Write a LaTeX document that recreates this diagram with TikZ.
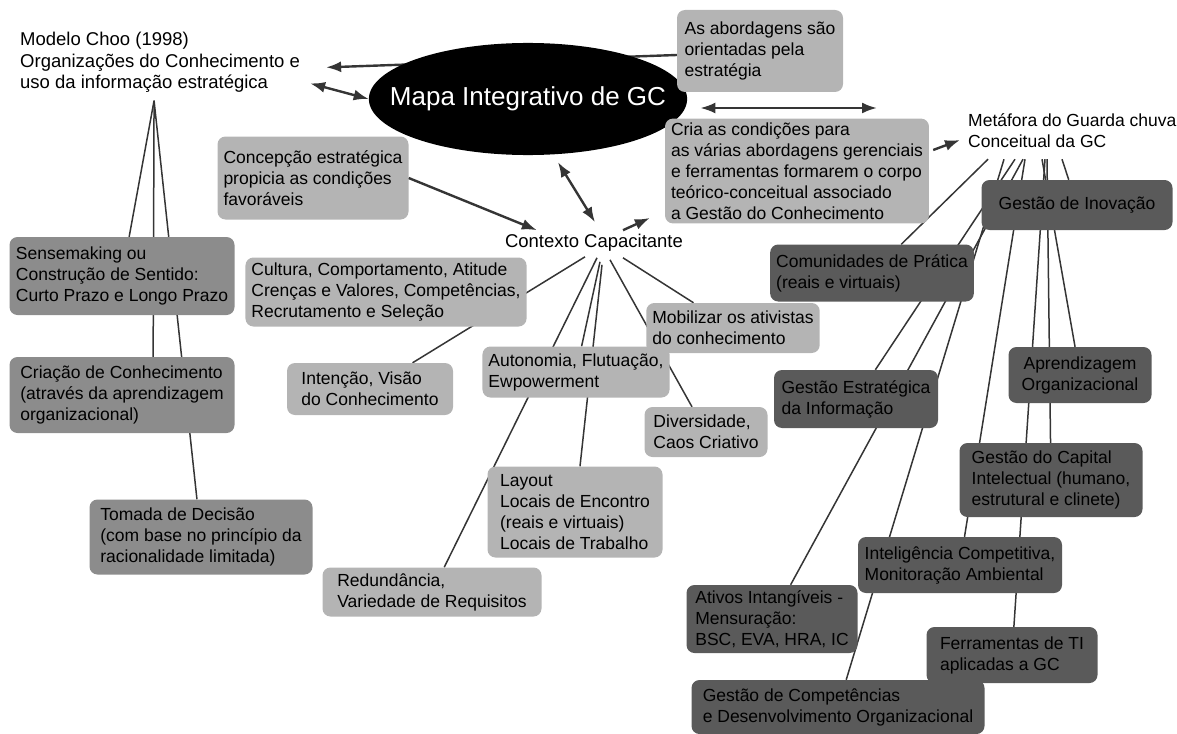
\documentclass[tikz,border=0pt]{standalone}
\usepackage{fontspec}
\setmainfont{Liberation Sans}
\usepackage{tikz}
\usetikzlibrary{shapes,arrows.meta,calc,positioning,backgrounds}
\definecolor{liteg}{HTML}{B4B4B4}
\definecolor{midg}{HTML}{8C8C8C}
\definecolor{darkg}{HTML}{5A5A5A}
\definecolor{lineg}{HTML}{353535}

\begin{document}
\begin{tikzpicture}[x=1pt, y=-1pt, font=\fontsize{17.5}{21}\selectfont]
\tikzstyle{box}=[rounded corners=8pt, align=left, inner xsep=6pt, inner ysep=4pt, text=black]
\tikzstyle{litebox}=[box, fill=liteg]
\tikzstyle{midbox}=[box, fill=midg]
\tikzstyle{darkbox}=[box, fill=darkg]
\tikzstyle{freetext}=[align=left, inner sep=0pt]
\tikzstyle{link}=[draw=lineg, line width=1.5pt]
\tikzstyle{arr}=[draw=lineg, line width=2.4pt, -{Latex[length=15pt,width=11pt]}]
\tikzstyle{dblarr}=[draw=lineg, line width=2.4pt, {Latex[length=15pt,width=11pt]}-{Latex[length=15pt,width=11pt]}]

\useasboundingbox (0,0) rectangle (1177,733);

% centre of the map
\node [ellipse, fill=black, text=white, inner xsep=-25.5pt, inner ysep=27.5pt, font=\fontsize{26}{30}\selectfont] (map) at (528,99) {Mapa Integrativo de GC};

\node [freetext, anchor=north west, font=\fontsize{18.5}{21.5}\selectfont] (choo) at (20,32) {Modelo Choo (1998)\\Organizações do Conhecimento e\\uso da informação estratégica};
\node [litebox, minimum width=166, minimum height=82] (abord) at (760,51) {As abordagens são\\orientadas pela\\estratégia};
\node [litebox, minimum width=261, minimum height=102] (cria) at (797,171) {Cria as condições para\\as várias abordagens gerenciais\\e ferramentas formarem o corpo\\teórico-conceitual associado\\a Gestão do Conhecimento};
\node [freetext, anchor=west] (meta) at (968,131) {Metáfora do Guarda chuva\\Conceitual da GC};
\node [litebox, minimum width=183, minimum height=83] (conc) at (313,178) {Concepção estratégica\\propicia as condições\\favoráveis};
\node [freetext, font=\fontsize{18.5}{21.5}\selectfont] (ctx) at (594,243) {Contexto Capacitante};

% Choo column
\node [midbox, minimum width=225, minimum height=78] (sense) at (122,276) {Sensemaking ou\\Construção de Sentido:\\Curto Prazo e Longo Prazo};
\node [midbox, minimum width=225, minimum height=76] (criacao) at (122,395) {Criação de Conhecimento\\(através da aprendizagem\\organizacional)};
\node [midbox, minimum width=223, minimum height=75] (tomada) at (201,537) {Tomada de Decisão\\(com base no princípio da\\racionalidade limitada)};

% enabling context
\node [litebox, minimum width=277, minimum height=69] (cult) at (386,292) {Cultura, Comportamento, Atitude\\Crenças e Valores, Competências,\\Recrutamento e Seleção};
\node [litebox, minimum width=166, minimum height=52] (intent) at (370,389) {Intenção, Visão\\do Conhecimento};
\node [litebox, minimum width=170, minimum height=50] (mobil) at (733,328) {Mobilizar os ativistas\\do conhecimento};
\node [litebox, minimum width=187, minimum height=51] (auto) at (576,372) {Autonomia, Flutuação,\\Ewpowerment};
\node [litebox, minimum width=123, minimum height=50] (divers) at (706,432) {Diversidade,\\Caos Criativo};
\node [litebox, minimum width=175, minimum height=91] (layout) at (575,512) {Layout\\Locais de Encontro\\(reais e virtuais)\\Locais de Trabalho};
\node [litebox, minimum width=219, minimum height=49] (redund) at (432,592) {Redundância,\\Variedade de Requisitos};

% umbrella
\node [darkbox, minimum width=191, minimum height=50, align=center] (inov) at (1077,205) {Gestão de Inovação};
\node [darkbox, minimum width=200, minimum height=57] (comun) at (872,273) {Comunidades de Prática\\(reais e virtuais)};
\node [darkbox, minimum width=164, minimum height=58] (estr) at (856,399) {Gestão Estratégica\\da Informação};
\node [darkbox, minimum width=143, minimum height=56, align=center] (aprend) at (1080,375) {Aprendizagem\\Organizacional};
\node [darkbox, minimum width=183, minimum height=74] (capital) at (1051,480) {Gestão do Capital\\Intelectual (humano,\\estrutural e clinete)};
\node [darkbox, minimum width=204, minimum height=56] (intel) at (960,565) {Inteligência Competitiva,\\Monitoração Ambiental};
\node [darkbox, minimum width=171, minimum height=68] (ativos) at (772,619) {Ativos Intangíveis -\\Mensuração:\\BSC, EVA, HRA, IC};
\node [darkbox, minimum width=171, minimum height=56] (ferr) at (1012,655) {Ferramentas de TI\\aplicadas a GC};
\node [darkbox, minimum width=293, minimum height=54] (compet) at (838,707) {Gestão de Competências\\e Desenvolvimento Organizacional};

\begin{scope}[on background layer]
\draw [arr] ($(abord.west)+(0,4)$) -- ($(choo.east)+(26,5)$);
\foreach \dest in {sense, tomada}
  \draw [link] ($(choo.south)+(-6,8)$) -- (\dest);
\draw [link] ($(choo.south)+(-6,8)$) -- ($(criacao.center)+(31,0)$);
\draw [link] ($(ctx.south)+(-9,5)$) -- (intent);
\draw [link] ($(ctx.south)+(3,6)$) -- (redund);
\draw [link] ($(ctx.south)+(6,10)$) -- (auto);
\draw [link] ($(ctx.south)+(8,13)$) -- (layout);
\draw [link] ($(ctx.south)+(16,8)$) -- (divers);
\draw [link] ($(ctx.south)+(29,6)$) -- (mobil);
\foreach \dx/\dest in {20/comun, 47/estr, 55/ativos, 36/compet, 57/intel, 77/ferr, 79/capital, 74/aprend, 94/inov}
  \draw [link] ($(meta.south west)+(\dx,11)$) -- (\dest);
\end{scope}

\draw [dblarr] ($(choo.east)+(10,21)$) -- (map.west);
\draw [dblarr] ($(map.east)+(13,9)$) -- ($(meta.west)+(-91,-23)$);
\draw [arr] ($(cria.east)+(4,-21)$) -- ($(meta.west)+(-8,9)$);
\draw [arr] (conc.east) -- ($(ctx.north west)+(32,-4)$);
\draw [dblarr] ($(map.south)+(30,7)$) -- ($(ctx.north)+(1,-12)$);
\draw [arr] ($(ctx.north)+(29,-4)$) -- ($(cria.west)+(-15,47)$);

\end{tikzpicture}
\end{document}
